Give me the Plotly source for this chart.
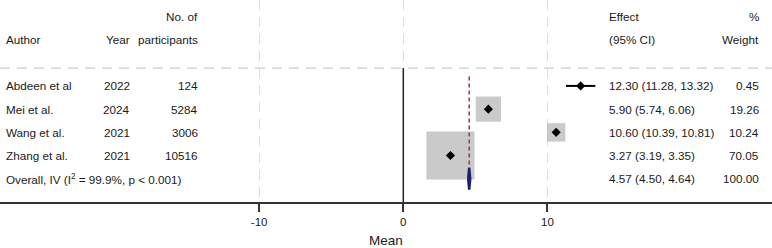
import plotly.graph_objects as go

authors = ["Abdeen et al", "Mei et al.", "Wang et al.", "Zhang et al."]
years = ["2022", "2024", "2021", "2021"]
participants = ["124", "5284", "3006", "10516"]
effects = [12.30, 5.90, 10.60, 3.27]
ci_low = [11.28, 5.74, 10.39, 3.19]
ci_high = [13.32, 6.06, 10.81, 3.35]
weights = [0.45, 19.26, 10.24, 70.05]
overall_label = "Overall, IV (I<sup>2</sup> = 99.9%, p &lt; 0.001)"
overall_effect = 4.57
overall_low = 4.50
overall_high = 4.64
overall_weight = 100.00
tick_vals = [-10, 0, 10]
tick_text = ["-10", "0", "10"]

W, H = 772, 248
FONT = "Liberation Sans, Arial, sans-serif"
TXT = "#1a1a1a"
FS = 11.7

rows = list(range(1, len(authors) + 1))
overall_row = len(authors) + 1

fig = go.Figure()

# zero line
fig.add_trace(go.Scatter(x=[0, 0], y=[0.23, 6], mode="lines",
                         line=dict(color="#222222", width=1.5),
                         hoverinfo="skip", showlegend=False))

# weight squares
fig.add_trace(go.Scatter(
    x=effects, y=rows, mode="markers",
    marker=dict(symbol="square", color="#b4b4b4",
                size=[5.75 * (w ** 0.5) for w in weights],
                line=dict(width=0)),
    hoverinfo="skip", showlegend=False))

# CI lines
for r, lo, hi in zip(rows, ci_low, ci_high):
    fig.add_trace(go.Scatter(x=[lo, hi], y=[r, r], mode="lines",
                             line=dict(color="black", width=2),
                             hoverinfo="skip", showlegend=False))

# point estimates
fig.add_trace(go.Scatter(
    x=effects, y=rows, mode="markers",
    marker=dict(symbol="diamond", color="black", size=7),
    hoverinfo="skip", showlegend=False))

# overall dashed red line
fig.add_trace(go.Scatter(x=[overall_effect, overall_effect], y=[0.6, 4.6],
                         mode="lines",
                         line=dict(color="#9b3b3b", width=1.5, dash="4px,3px"),
                         hoverinfo="skip", showlegend=False))

# overall diamond
dh = 0.47
fig.add_trace(go.Scatter(
    x=[overall_low, overall_effect, overall_high, overall_effect, overall_low],
    y=[overall_row, overall_row - dh, overall_row, overall_row + dh, overall_row],
    mode="lines", fill="toself", fillcolor="#1c1c78",
    line=dict(color="#1c1c78", width=2.5),
    hoverinfo="skip", showlegend=False))

# horizontal dashed separator
fig.add_shape(type="line", xref="paper", x0=0, x1=1, yref="y", y0=0.23, y1=0.23,
              line=dict(color="#cccccc", width=1.2, dash="10px,7px"), layer="below")

def ann(text, px, row, anchor):
    fig.add_annotation(text=text, xref="paper", x=px / W, yref="y", y=row,
                       xanchor=anchor, yanchor="middle", showarrow=False,
                       font=dict(family=FONT, size=FS, color=TXT))

# headers
ann("No. of", 200, -2, "right")
ann("Author", 4, -1, "left")
ann("Year", 132, -1, "right")
ann("participants", 200, -1, "right")
ann("Effect", 607, -2, "left")
ann("%", 761, -2, "right")
ann("(95% CI)", 607, -1, "left")
ann("Weight", 761, -1, "right")

for r, a, yr, n, e, lo, hi, w in zip(rows, authors, years, participants,
                                     effects, ci_low, ci_high, weights):
    ann(a, 4, r, "left")
    ann(yr, 132, r, "right")
    ann(n, 200, r, "right")
    ann(f"{e:.2f} ({lo:.2f}, {hi:.2f})", 607, r, "left")
    ann(f"{w:.2f}", 761, r, "right")

ann(overall_label, 4, overall_row, "left")
ann(f"{overall_effect:.2f} ({overall_low:.2f}, {overall_high:.2f})", 607, overall_row, "left")
ann(f"{overall_weight:.2f}", 761, overall_row, "right")

fig.update_layout(
    width=W, height=H,
    margin=dict(l=0, r=0, t=0, b=46, pad=0),
    plot_bgcolor="white", paper_bgcolor="white",
    font=dict(family=FONT, size=FS, color=TXT),
    xaxis=dict(range=[-27.97, 25.57], tickvals=tick_vals, ticktext=tick_text,
               showgrid=True, gridcolor="#dddddd", griddash="10px,7px", gridwidth=1.2,
               zeroline=False, showline=True, linecolor="#333333", linewidth=1.5,
               ticks="outside", ticklen=8, tickwidth=1.5, tickcolor="#333333",
               tickfont=dict(family=FONT, size=11.5, color=TXT),
               title=dict(text="Mean", font=dict(family=FONT, size=13.5, color=TXT),
                          standoff=10),
               fixedrange=True),
    yaxis=dict(range=[6, -2.7], showgrid=False, zeroline=False, showline=False,
               showticklabels=False, ticks="", fixedrange=True),
)

fig.write_html("out.html", config={"displayModeBar": False},
               post_script="document.body.style.margin='0';document.body.style.padding='0';")
